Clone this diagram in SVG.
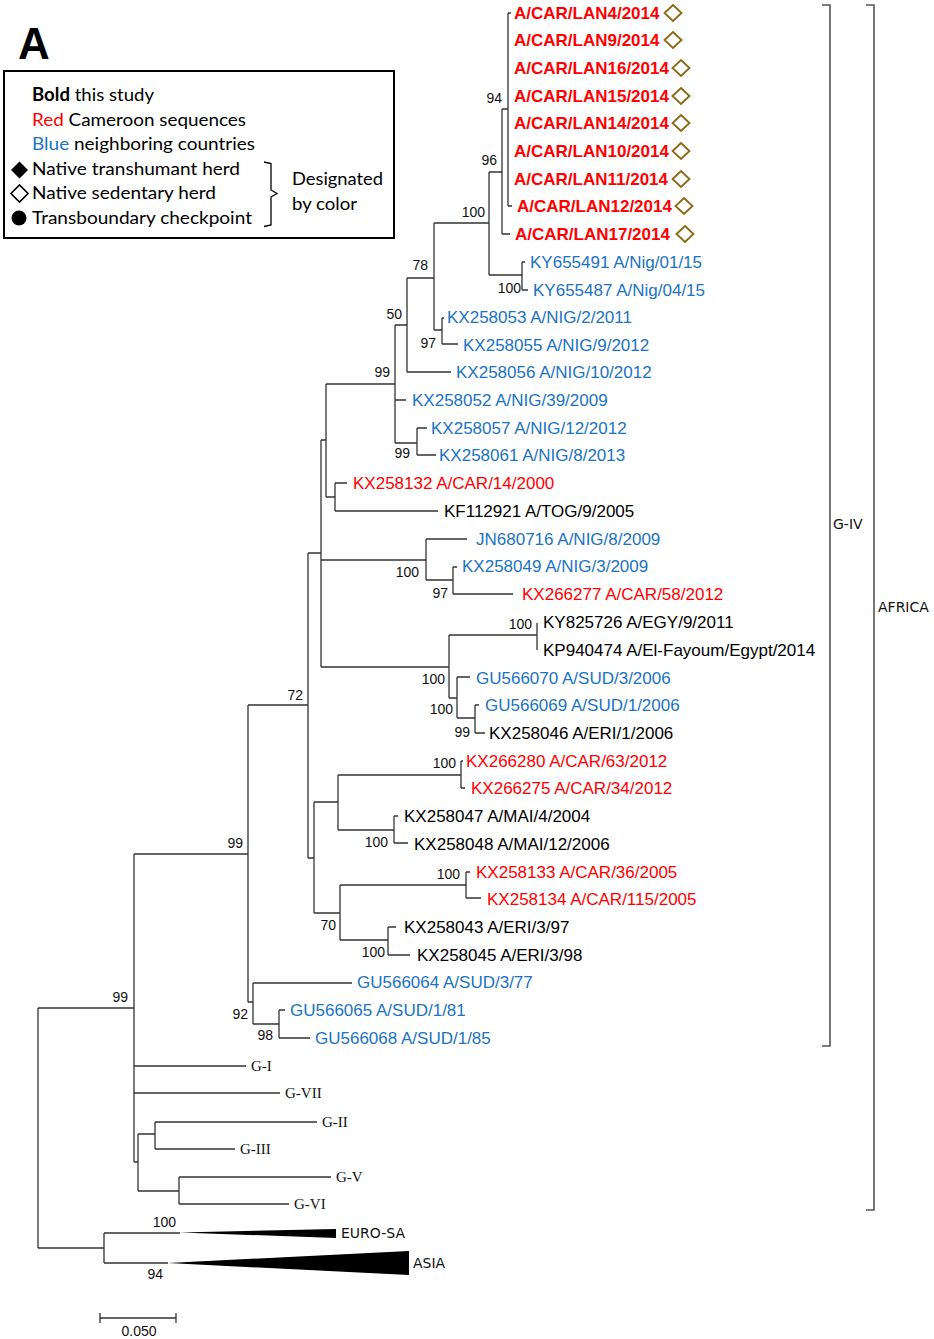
<svg xmlns="http://www.w3.org/2000/svg" width="934" height="1339" viewBox="0 0 934 1339">
<style>
.br{stroke:#333;stroke-width:1.3;fill:none}
.bk{stroke:#555;stroke-width:1.6;fill:none}
.lf{font-family:"Liberation Sans",Arial,sans-serif;font-size:17px}
.bd{font-weight:bold}
.r{fill:#ff0000}
.b{fill:#1a73c4}
.k{fill:#000}
.bs{font-family:"Liberation Sans",Arial,sans-serif;font-size:14px;fill:#111;text-anchor:end}
.gl{font-family:"Liberation Serif","Times New Roman",serif;font-size:15px;fill:#111}
.cl{font-family:"DejaVu Sans",Verdana,sans-serif;font-size:14px;fill:#111}
.lg{font-family:Lato,"Open Sans",sans-serif;font-size:18px;fill:#000}
.dm{fill:none;stroke:#8b6914;stroke-width:1.8}
</style>
<defs>
<path id="dia" d="M0,-8 L8.5,0 L0,8 L-8.5,0 Z"/>
</defs>
<rect width="934" height="1339" fill="#fff"/>

<g id="panel-label"><text x="18" y="59" font-family="Liberation Sans,Arial,sans-serif" font-size="44" font-weight="bold">A</text></g>

<g id="legend">
<rect x="4" y="71" width="390" height="167" fill="none" stroke="#000" stroke-width="2"/>
<text class="lg" x="32" y="101" textLength="122" lengthAdjust="spacingAndGlyphs"><tspan font-weight="bold">Bold</tspan> this study</text>
<text class="lg" x="32" y="126" textLength="214" lengthAdjust="spacingAndGlyphs"><tspan fill="#ff0000">Red</tspan> Cameroon sequences</text>
<text class="lg" x="32" y="150" textLength="223" lengthAdjust="spacingAndGlyphs"><tspan fill="#1a73c4">Blue</tspan> neighboring countries</text>
<path d="M11,170 L19.5,161.5 L28,170 L19.5,178.5 Z" fill="#000"/>
<text class="lg" x="32" y="175" textLength="208" lengthAdjust="spacingAndGlyphs">Native transhumant herd</text>
<path d="M11,193.5 L19.5,185 L28,193.5 L19.5,202 Z" fill="none" stroke="#000" stroke-width="1.6"/>
<text class="lg" x="32" y="199" textLength="184" lengthAdjust="spacingAndGlyphs">Native sedentary herd</text>
<circle cx="19" cy="218" r="7.5" fill="#000"/>
<text class="lg" x="32" y="224" textLength="220" lengthAdjust="spacingAndGlyphs">Transboundary checkpoint</text>
<path d="M264,162 L271,163.5 L271,190 L277,193.5 L271,197 L271,225 L264,226.5" fill="none" stroke="#000" stroke-width="1.3"/>
<text class="lg" x="292" y="185" textLength="91" lengthAdjust="spacingAndGlyphs">Designated</text>
<text class="lg" x="292" y="210" textLength="65" lengthAdjust="spacingAndGlyphs">by color</text>
</g>

<g id="connectors">
<path class="br" d="M38,1008 V1248 M38,1008 H134 M38,1248 H104"/>
<path class="br" d="M104,1233 V1263 M104,1233 H180 M104,1263 H168"/>
<path d="M180,1232.5 L336,1229 L336,1238 Z" fill="#000"/>
<path d="M168,1263 L409,1251 L409,1275 Z" fill="#000"/>
<path class="br" d="M134,854 V1162 M134,854 H248 M134,1066 H246 M134,1093 H280 M134,1162 H138"/>
<path class="br" d="M138,1134 V1191 M138,1134 H155 M138,1191 H179"/>
<path class="br" d="M155,1122 V1149 M155,1122 H317 M155,1149 H235"/>
<path class="br" d="M179,1177 V1204 M179,1177 H331 M179,1204 H289"/>
<path class="br" d="M248,705 V1002 M248,705 H308 M248,1002 H253"/>
<path class="br" d="M253,983 V1024 M253,983 H352 M253,1024 H279"/>
<path class="br" d="M279,1010 V1038 M279,1010 H285 M279,1038 H310"/>
<path class="br" d="M308,553 V858 M308,553 H321 M308,858 H314"/>
<path class="br" d="M314,802 V913 M314,802 H338 M314,913 H340"/>
<path class="br" d="M338,775 V830 M338,775 H461 M338,830 H394"/>
<path class="br" d="M461,761 V788 M461,761 H463 M461,788 H465"/>
<path class="br" d="M394,816 V843 M394,816 H398 M394,843 H408"/>
<path class="br" d="M340,885 V940 M340,885 H466 M340,940 H388"/>
<path class="br" d="M466,872 V898 M466,872 H470 M466,898 H481"/>
<path class="br" d="M388,927 V955 M388,927 H396 M388,955 H410"/>
<path class="br" d="M321,440 V667 M321,440 H326 M321,560 H426 M321,667 H449"/>
<path class="br" d="M326,384 V497 M326,384 H395 M326,497 H335"/>
<path class="br" d="M335,483 V511 M335,483 H347 M335,511 H438"/>
<path class="br" d="M395,325 V443 M395,325 H407 M395,400 H406 M395,443 H417"/>
<path class="br" d="M417,428 V455 M417,428 H427 M417,455 H436"/>
<path class="br" d="M407,278 V372 M407,278 H434 M407,372 H451"/>
<path class="br" d="M434,223 V330 M434,223 H489 M434,330 H442"/>
<path class="br" d="M442,318 V344 M442,318 H444 M442,344 H458"/>
<path class="br" d="M489,172 V275 M489,172 H502 M489,275 H522"/>
<path class="br" d="M522,262 V290 M522,262 H525 M522,290 H528"/>
<path class="br" d="M502,109 V234 M502,109 H508 M502,234 H510"/>
<path class="br" d="M508,13 V206 M508,13 H511 M508,206 H512"/>
<path class="br" d="M426,539 V580 M426,539 H467 M426,580 H453"/>
<path class="br" d="M453,567 V594 M453,567 H457 M453,594 H513"/>
<path class="br" d="M449,635 V698 M449,635 H537 M449,698 H457"/>
<path class="br" d="M537,623 V650"/>
<path class="br" d="M457,677 V718 M457,677 H470 M457,718 H475"/>
<path class="br" d="M475,705 V733 M475,705 H479 M475,733 H485"/>
</g>

<g id="support">
<text class="bs" x="502" y="103">94</text>
<text class="bs" x="497" y="165">96</text>
<text class="bs" x="485" y="217">100</text>
<text class="bs" x="521" y="293">100</text>
<text class="bs" x="428" y="270">78</text>
<text class="bs" x="436" y="348">97</text>
<text class="bs" x="402" y="319">50</text>
<text class="bs" x="390" y="377">99</text>
<text class="bs" x="410" y="458">99</text>
<text class="bs" x="419" y="577">100</text>
<text class="bs" x="448" y="598">97</text>
<text class="bs" x="532" y="629">100</text>
<text class="bs" x="445" y="684">100</text>
<text class="bs" x="453" y="714">100</text>
<text class="bs" x="470" y="737">99</text>
<text class="bs" x="303" y="700">72</text>
<text class="bs" x="456" y="768">100</text>
<text class="bs" x="388" y="847">100</text>
<text class="bs" x="460" y="879">100</text>
<text class="bs" x="336" y="930">70</text>
<text class="bs" x="385" y="957">100</text>
<text class="bs" x="243" y="848">99</text>
<text class="bs" x="248" y="1019">92</text>
<text class="bs" x="273" y="1040">98</text>
<text class="bs" x="128" y="1002">99</text>
<text class="bs" x="176" y="1227">100</text>
<text class="bs" x="163" y="1279">94</text>
</g>

<g id="leaf-LAN4"><text class="lf bd r" x="514" y="19">A/CAR/LAN4/2014</text><use href="#dia" class="dm" x="673" y="13"/></g>
<g id="leaf-LAN9"><text class="lf bd r" x="514" y="46">A/CAR/LAN9/2014</text><use href="#dia" class="dm" x="673" y="40"/></g>
<g id="leaf-LAN16"><text class="lf bd r" x="514" y="74">A/CAR/LAN16/2014</text><use href="#dia" class="dm" x="681" y="68"/></g>
<g id="leaf-LAN15"><text class="lf bd r" x="514" y="102">A/CAR/LAN15/2014</text><use href="#dia" class="dm" x="681" y="96"/></g>
<g id="leaf-LAN14"><text class="lf bd r" x="514" y="129">A/CAR/LAN14/2014</text><use href="#dia" class="dm" x="681" y="123"/></g>
<g id="leaf-LAN10"><text class="lf bd r" x="514" y="157">A/CAR/LAN10/2014</text><use href="#dia" class="dm" x="681" y="151"/></g>
<g id="leaf-LAN11"><text class="lf bd r" x="514" y="185">A/CAR/LAN11/2014</text><use href="#dia" class="dm" x="681" y="179"/></g>
<g id="leaf-LAN12"><text class="lf bd r" x="517" y="212">A/CAR/LAN12/2014</text><use href="#dia" class="dm" x="684" y="206"/></g>
<g id="leaf-LAN17"><text class="lf bd r" x="515" y="240">A/CAR/LAN17/2014</text><use href="#dia" class="dm" x="685" y="234"/></g>
<g id="leaf-KY655491"><text class="lf b" x="530" y="268">KY655491 A/Nig/01/15</text></g>
<g id="leaf-KY655487"><text class="lf b" x="533" y="296">KY655487 A/Nig/04/15</text></g>
<g id="leaf-KX258053"><text class="lf b" x="447" y="323">KX258053 A/NIG/2/2011</text></g>
<g id="leaf-KX258055"><text class="lf b" x="463" y="351">KX258055 A/NIG/9/2012</text></g>
<g id="leaf-KX258056"><text class="lf b" x="456" y="378">KX258056 A/NIG/10/2012</text></g>
<g id="leaf-KX258052"><text class="lf b" x="412" y="406">KX258052 A/NIG/39/2009</text></g>
<g id="leaf-KX258057"><text class="lf b" x="431" y="434">KX258057 A/NIG/12/2012</text></g>
<g id="leaf-KX258061"><text class="lf b" x="439" y="461">KX258061 A/NIG/8/2013</text></g>
<g id="leaf-KX258132"><text class="lf r" x="353" y="489">KX258132 A/CAR/14/2000</text></g>
<g id="leaf-KF112921"><text class="lf k" x="444" y="517">KF112921 A/TOG/9/2005</text></g>
<g id="leaf-JN680716"><text class="lf b" x="476" y="545">JN680716 A/NIG/8/2009</text></g>
<g id="leaf-KX258049"><text class="lf b" x="462" y="572">KX258049 A/NIG/3/2009</text></g>
<g id="leaf-KX266277"><text class="lf r" x="522" y="600">KX266277 A/CAR/58/2012</text></g>
<g id="leaf-KY825726"><text class="lf k" x="543" y="628">KY825726 A/EGY/9/2011</text></g>
<g id="leaf-KP940474"><text class="lf k" x="543" y="656">KP940474 A/El-Fayoum/Egypt/2014</text></g>
<g id="leaf-GU566070"><text class="lf b" x="476" y="684">GU566070 A/SUD/3/2006</text></g>
<g id="leaf-GU566069"><text class="lf b" x="485" y="711">GU566069 A/SUD/1/2006</text></g>
<g id="leaf-KX258046"><text class="lf k" x="489" y="739">KX258046 A/ERI/1/2006</text></g>
<g id="leaf-KX266280"><text class="lf r" x="466" y="767">KX266280 A/CAR/63/2012</text></g>
<g id="leaf-KX266275"><text class="lf r" x="471" y="794">KX266275 A/CAR/34/2012</text></g>
<g id="leaf-KX258047"><text class="lf k" x="404" y="822">KX258047 A/MAI/4/2004</text></g>
<g id="leaf-KX258048"><text class="lf k" x="414" y="850">KX258048 A/MAI/12/2006</text></g>
<g id="leaf-KX258133"><text class="lf r" x="476" y="878">KX258133 A/CAR/36/2005</text></g>
<g id="leaf-KX258134"><text class="lf r" x="487" y="905">KX258134 A/CAR/115/2005</text></g>
<g id="leaf-KX258043"><text class="lf k" x="404" y="933">KX258043 A/ERI/3/97</text></g>
<g id="leaf-KX258045"><text class="lf k" x="417" y="961">KX258045 A/ERI/3/98</text></g>
<g id="leaf-GU566064"><text class="lf b" x="357" y="988">GU566064 A/SUD/3/77</text></g>
<g id="leaf-GU566065"><text class="lf b" x="290" y="1016">GU566065 A/SUD/1/81</text></g>
<g id="leaf-GU566068"><text class="lf b" x="315" y="1044">GU566068 A/SUD/1/85</text></g>

<g id="genotype-GI"><text class="gl" x="251" y="1071">G-I</text></g>
<g id="genotype-GVII"><text class="gl" x="285" y="1098">G-VII</text></g>
<g id="genotype-GII"><text class="gl" x="322" y="1127">G-II</text></g>
<g id="genotype-GIII"><text class="gl" x="240" y="1154">G-III</text></g>
<g id="genotype-GV"><text class="gl" x="336" y="1182">G-V</text></g>
<g id="genotype-GVI"><text class="gl" x="294" y="1209">G-VI</text></g>
<g id="clade-EUROSA"><text class="cl" x="341" y="1238">EURO-SA</text></g>
<g id="clade-ASIA"><text class="cl" x="413" y="1268">ASIA</text></g>

<g id="bracket-GIV"><path class="bk" d="M822,5 H830 V1046 H822"/><text class="cl" x="833" y="529">G-IV</text></g>
<g id="bracket-AFRICA"><path class="bk" d="M866,5 H874 V1210 H866"/><text class="cl" x="878" y="612">AFRICA</text></g>

<g id="scale-bar">
<path class="br" d="M100,1318 H176 M100,1313 V1323 M176,1313 V1323"/>
<text x="139" y="1336" font-family="Liberation Sans,Arial,sans-serif" font-size="14" fill="#111" text-anchor="middle">0.050</text>
</g>
</svg>
